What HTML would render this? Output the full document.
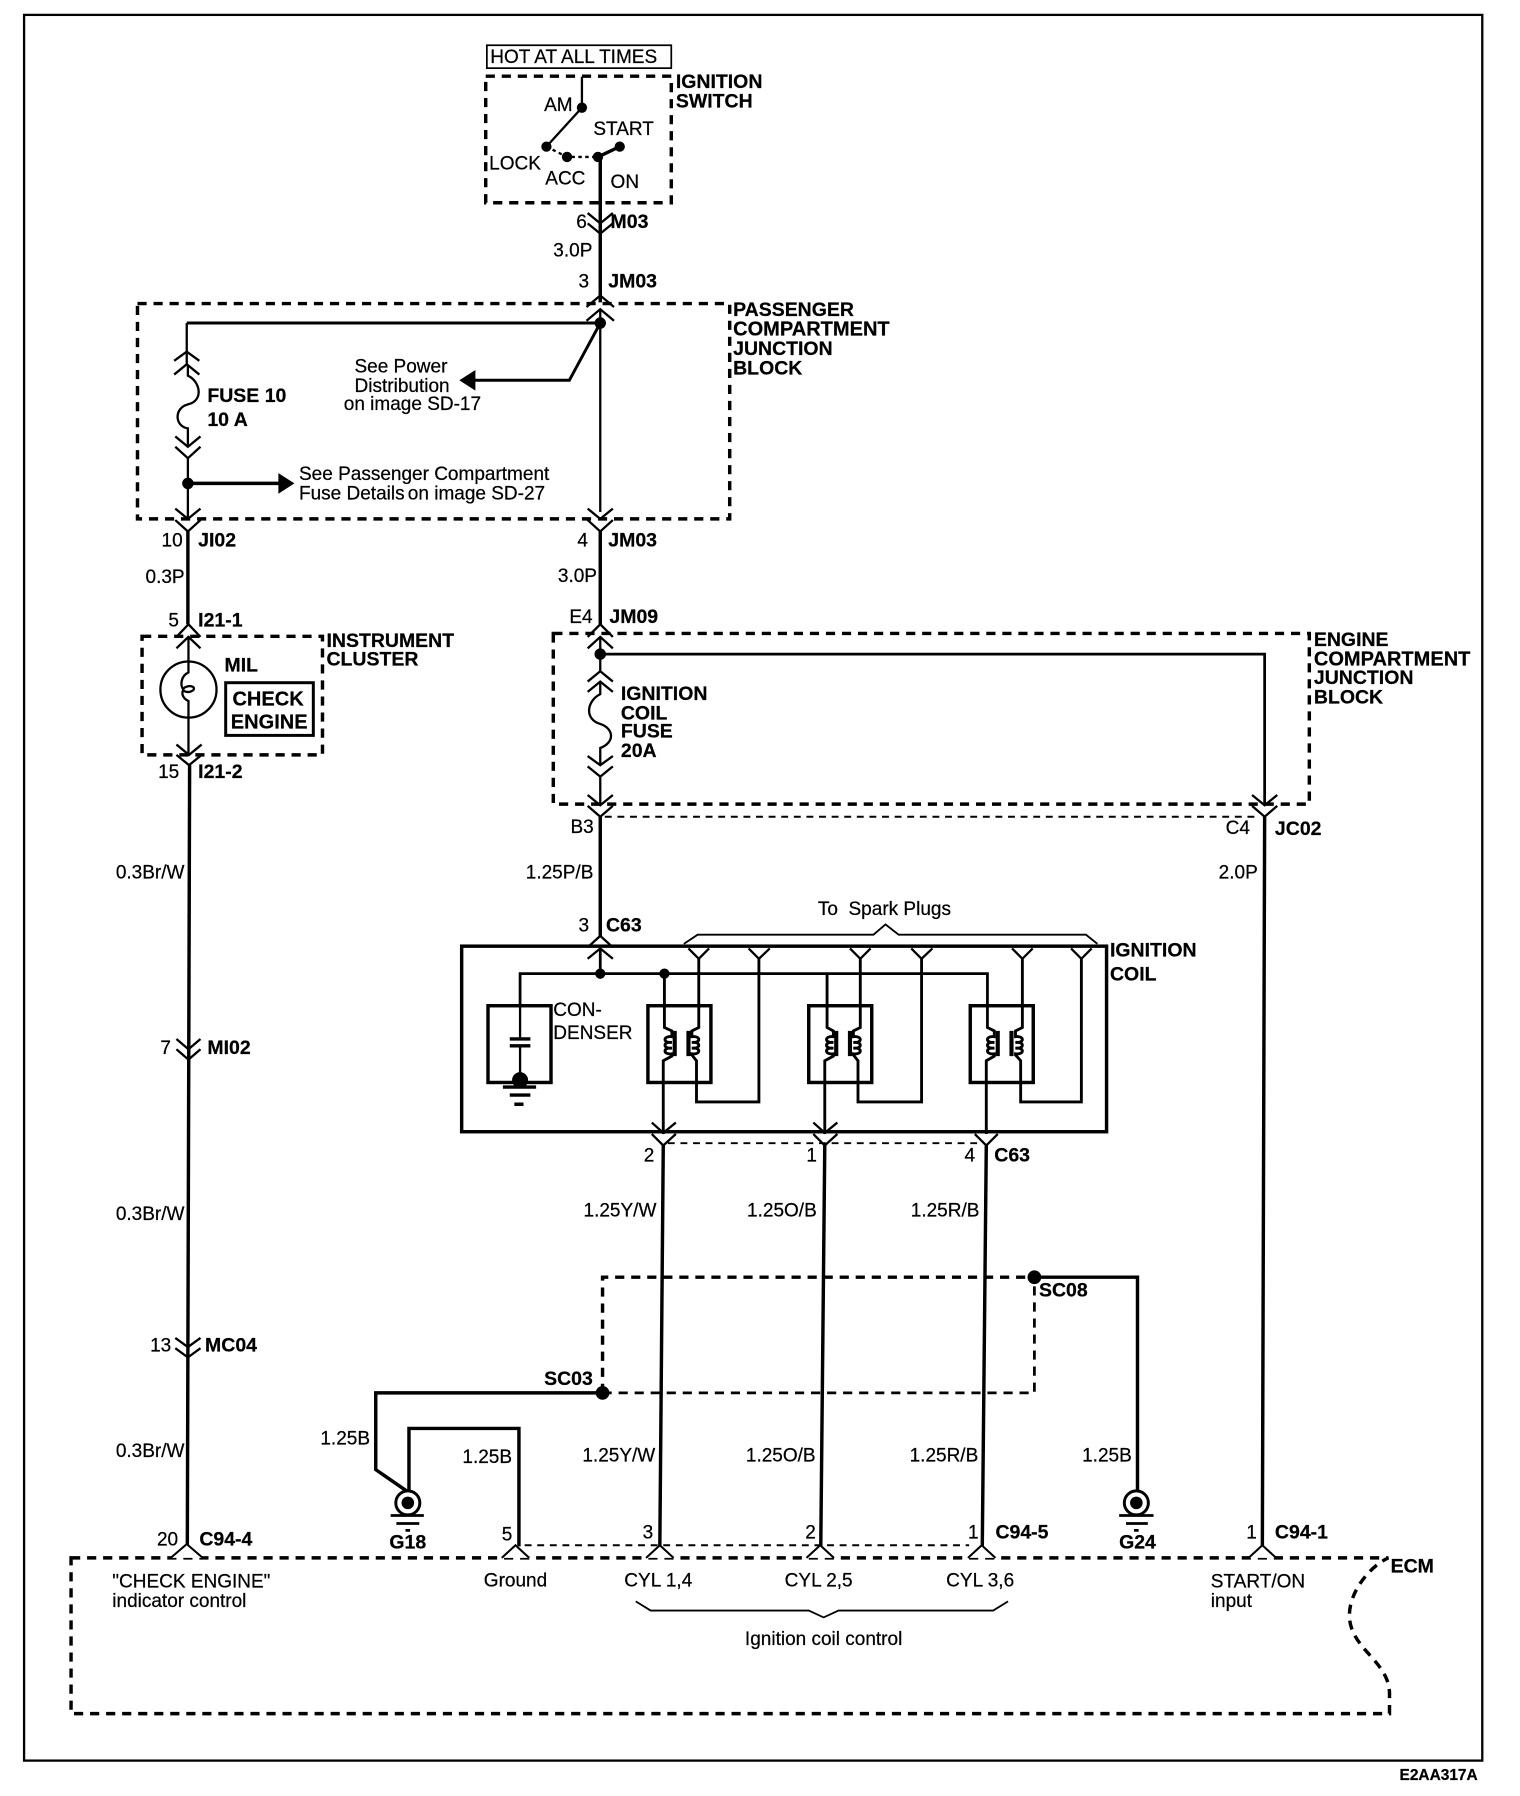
<!DOCTYPE html>
<html><head><meta charset="utf-8"><style>
html,body{margin:0;padding:0;background:#fff}
svg{display:block}
text{font-family:"Liberation Sans",sans-serif;font-size:16.6px;fill:#000;stroke:#000;stroke-width:.2}
.b{font-weight:bold;font-size:17px}
.x{font-size:17.5px}
.e{text-anchor:end}
.m{text-anchor:middle}
.w{fill:none;stroke:#000;stroke-width:3}
.t{fill:none;stroke:#000;stroke-width:2}
.c{fill:none;stroke:#000;stroke-width:2}
.d{fill:none;stroke:#000;stroke-width:3;stroke-dasharray:8 6}
.f{fill:none;stroke:#000;stroke-width:1.7;stroke-dasharray:6 5}
</style></head><body>
<svg width="1520" height="1796" viewBox="0 0 1326.9 1567.9" xmlns="http://www.w3.org/2000/svg">
<rect x="21" y="13" width="1273" height="1524" class="t"/>
<!-- ignition switch -->
<rect x="425" y="39.5" width="161" height="20" fill="none" stroke="#000" stroke-width="1.5"/>
<text x="428" y="55">HOT AT ALL TIMES</text>
<rect x="424" y="66.5" width="162" height="110.5" class="d"/>
<path class="t" d="M508 67V94L477 128"/>
<path d="M477 128L495 137H522" fill="none" stroke="#000" stroke-width="2" stroke-dasharray="3 3"/>
<path class="w" d="M522 137L541 128M524 137V264"/>
<circle cx="508" cy="94" r="4.5"/><circle cx="477" cy="128" r="4.5"/><circle cx="495" cy="137" r="4.5"/><circle cx="522" cy="137" r="4.5"/><circle cx="541" cy="128" r="4.5"/>
<text x="475" y="97">AM</text><text x="518" y="118">START</text><text x="427" y="148">LOCK</text><text x="476" y="161">ACC</text><text x="533" y="164">ON</text>
<text x="590" y="77" class="b">IGNITION</text><text x="590" y="94" class="b">SWITCH</text>
<path class="c" d="M513 186L524 195L535 186M513 195L524 204L535 195"/>
<text x="503" y="199">6</text><text x="533" y="199" class="b">M03</text>
<text x="483" y="224">3.0P</text><text x="505" y="251">3</text><text x="531" y="251" class="b">JM03</text>
<!-- passenger block -->
<rect x="120" y="265" width="517" height="188" class="d"/>
<path class="c" d="M512 268L524 258L536 268M512 280L524 270L536 280"/>
<path class="t" d="M524 270V447"/>
<path class="w" d="M163 282H524" style="stroke-width:2.6"/>
<path class="t" d="M163 282V318"/>
<circle cx="524" cy="282" r="5"/>
<path class="c" d="M152 315L163 307L174 315M152 327L163 318L174 327"/>
<path class="t" d="M164 319V328C175 333 178 350 164 353C152 356 152 372 164 374V389"/>
<path class="c" d="M153 381L164 390L175 381M153 390L164 400L175 390"/>
<path class="t" d="M164 400V453"/>
<circle cx="164" cy="422" r="5"/>
<path class="w" d="M164 422H245"/><path d="M243 413L257 422L243 431Z"/>
<path class="w" d="M524 282L497 332H414" style="stroke-width:2.6"/><path d="M415 323L401 332L415 341Z"/>
<text x="181" y="351" class="b">FUSE 10</text><text x="181" y="372" class="b">10 A</text>
<text x="350" y="325" class="m">See Power</text><text x="351" y="342" class="m">Distribution</text><text x="360" y="358" class="m">on image SD-17</text>
<text x="261" y="419">See Passenger Compartment</text><text x="261" y="436">Fuse Details</text><text x="356" y="436">on image SD-27</text>
<text x="640" y="276" class="b">PASSENGER</text><text x="640" y="293" class="b x">COMPARTMENT</text><text x="640" y="310" class="b">JUNCTION</text><text x="640" y="327" class="b">BLOCK</text>
<path class="c" d="M153 444L164 453L175 444M153 454L164 464L175 454M513 444L524 453L535 444M513 454L524 464L535 454"/>
<path class="w" d="M164 464V545M524 464V545"/>
<text x="141" y="477">10</text><text x="173" y="477" class="b">JI02</text>
<text x="504" y="477">4</text><text x="531" y="477" class="b">JM03</text>
<text x="127" y="509">0.3P</text><text x="487" y="508">3.0P</text>
<!-- instrument cluster -->
<text x="147" y="547">5</text><text x="173" y="547" class="b">I21-1</text>
<rect x="124" y="555.5" width="157.5" height="103.5" class="d"/>
<path class="c" d="M154 556L164.5 545L175 556M154 566L164.5 556L175 566"/>
<circle cx="164.5" cy="602" r="24.5" class="t"/>
<path class="t" d="M164.5 556V587C158 590 157 598 160 602C158 606 160 610 164.5 612V660"/>
<path class="t" d="M160 601C166 597 172 600 168 603C165 605 162 604 160 603"/>
<rect x="197" y="596" width="76.5" height="46" fill="none" stroke="#000" stroke-width="2.6"/>
<text x="196" y="586" class="b">MIL</text>
<text x="234" y="616" class="b m" style="font-size:17.5px">CHECK</text><text x="235" y="636" class="b m" style="font-size:17.5px">ENGINE</text>
<text x="285" y="565" class="b">INSTRUMENT</text><text x="285" y="581" class="b">CLUSTER</text>
<path class="c" d="M154 650L165 659L176 650M154 659L165 668L176 659"/>
<path class="w" d="M165.5 668L163.5 1350"/>
<text x="138" y="679">15</text><text x="173" y="679" class="b">I21-2</text>
<text x="161" y="767" class="e">0.3Br/W</text><text x="161" y="1065" class="e">0.3Br/W</text><text x="161" y="1272" class="e">0.3Br/W</text>
<path class="c" d="M154 907L164.5 916L175 907M154 916L164.5 925L175 916"/>
<text x="140" y="920">7</text><text x="181" y="920" class="b">MI02</text>
<path class="c" d="M153 1168L164 1176L175 1168M153 1177L164 1185L175 1177"/>
<text x="131" y="1180">13</text><text x="179" y="1180" class="b">MC04</text>
<text x="137" y="1349">20</text><text x="174" y="1349" class="b">C94-4</text>
<!-- engine block -->
<text x="497" y="544">E4</text><text x="532" y="544" class="b">JM09</text>
<rect x="483" y="553" width="660" height="149" class="d"/>
<path class="c" d="M513 556L524 545L535 556M513 566L524 556L535 566"/>
<path class="t" d="M524 556V571"/>
<circle cx="524" cy="571" r="5"/>
<path class="t" d="M524 571H1104V702" style="stroke-width:2.4"/>
<path class="t" d="M524 571V586"/>
<path class="c" d="M513 595L524 586L535 595M513 604L524 595L535 604"/>
<path class="t" d="M524 596V606C512 612 510 628 524 632C536 636 537 648 524 653V668"/>
<path class="c" d="M513 660L524 668L535 660M513 669L524 678L535 669"/>
<path class="t" d="M524 678V703"/>
<path class="c" d="M513 694L524 703L535 694M513 703.5L524 713L535 703.5M1093 694L1104 703L1115 694M1093 703.5L1104 713L1115 703.5"/>
<path class="f" d="M528 713H1098"/>
<path class="w" d="M524 713V817M1104 713L1102 1350"/>
<text x="498" y="727">B3</text><text x="1070" y="728">C4</text><text x="1113" y="729" class="b">JC02</text>
<text x="518" y="767" class="e">1.25P/B</text><text x="1098" y="767" class="e">2.0P</text>
<text x="542" y="611" class="b">IGNITION</text><text x="542" y="628" class="b">COIL</text><text x="542" y="644" class="b">FUSE</text><text x="542" y="661" class="b">20A</text>
<text x="1147" y="564" class="b">ENGINE</text><text x="1147" y="581" class="b x">COMPARTMENT</text><text x="1147" y="597" class="b">JUNCTION</text><text x="1147" y="614" class="b">BLOCK</text>
<!-- ignition coil -->
<text x="505" y="813">3</text><text x="529" y="813" class="b">C63</text>
<text x="714" y="799">To&#160;&#160;Spark Plugs</text>
<path class="t" d="M597 824L609 816H762.5L773 807L784.5 816H948L958 824" style="stroke-width:1.6"/>
<rect x="403" y="826" width="563" height="162" class="w"/>
<path class="c" d="M513 827L524 817L535 827M513 837L524 828L535 837"/>
<path class="w" d="M524 828V850" style="stroke-width:2.4"/>
<path class="w" d="M454 878V850H862V898" style="stroke-width:2.4"/>
<circle cx="524" cy="850" r="4.5"/><circle cx="580" cy="850" r="4.5"/>
<rect x="426" y="878" width="55" height="67" class="w"/>
<path class="t" d="M454 878V908M454 913V945"/>
<path d="M445 907H463M445 913H463" stroke="#000" stroke-width="3" fill="none"/>
<circle cx="454" cy="943" r="7"/>
<path d="M439 949H468M445 956H463M449 964H457" stroke="#000" stroke-width="3" fill="none"/>
<text x="483" y="887">CON-</text><text x="483" y="907">DENSER</text>
<text x="969" y="835" class="b">IGNITION</text><text x="969" y="856" class="b">COIL</text>
<!-- relay 1 -->
<rect x="565.6" y="878" width="55" height="67" class="w"/>
<path class="t" d="M580 850V897L586.5 900V905c-8-1-8 6 0 5c-8-1-8 6 0 5c-8-1-8 6 0 5V922L579 926V990" style="stroke-width:2.5"/>
<path d="M589 900V922M601 900V922" stroke="#000" stroke-width="3.6" fill="none"/>
<path class="t" d="M610 837V897L604 900V905c8-1 8 6 0 5c8-1 8 6 0 5c8-1 8 6 0 5V921L608 926V962H662.5V837" style="stroke-width:2.5"/>
<path class="c" d="M601 828L610 837L619 828M653.5 828L662.5 837L672 828"/>
<!-- relay 2 -->
<rect x="706" y="878" width="55" height="67" class="w"/>
<path class="t" d="M722 850V897L727.5 900V905c-8-1-8 6 0 5c-8-1-8 6 0 5c-8-1-8 6 0 5V922L720 926V990" style="stroke-width:2.5"/>
<path d="M730 900V922M742 900V922" stroke="#000" stroke-width="3.6" fill="none"/>
<path class="t" d="M751 837V897L745 900V905c8-1 8 6 0 5c8-1 8 6 0 5c8-1 8 6 0 5V921L749 926V962H804.5V837" style="stroke-width:2.5"/>
<path class="c" d="M742 828L751 837L760 828M795.5 828L804.5 837L814 828"/>
<!-- relay 3 -->
<rect x="847" y="878" width="55" height="67" class="w"/>
<path class="t" d="M862 897L868 900V905c-8-1-8 6 0 5c-8-1-8 6 0 5c-8-1-8 6 0 5V922L861 926V990" style="stroke-width:2.5"/>
<path d="M871 900V922M883 900V922" stroke="#000" stroke-width="3.6" fill="none"/>
<path class="t" d="M892.5 837V897L886.5 900V905c8-1 8 6 0 5c8-1 8 6 0 5c8-1 8 6 0 5V921L891 926V962H944V837" style="stroke-width:2.5"/>
<path class="c" d="M883.5 828L892.5 837L901.5 828M935 828L944 837L953 828"/>
<!-- below coil -->
<path class="c" d="M569 980L579 989L590 980M569 990L579 1000L590 990M710 980L720 989L731 980M710 990L720 1000L731 990M851 990L861 1000L871 990"/>
<path class="f" d="M583 998H853"/>
<path class="w" d="M579 1000L576 1350M720 1000L716.5 1350M861 1000L857.5 1350"/>
<text x="562" y="1014">2</text><text x="704" y="1014">1</text><text x="842" y="1014">4</text><text x="868" y="1014" class="b">C63</text>
<text x="573" y="1062" class="e">1.25Y/W</text><text x="713" y="1062" class="e">1.25O/B</text><text x="855" y="1062" class="e">1.25R/B</text>
<text x="572" y="1276" class="e">1.25Y/W</text><text x="712" y="1276" class="e">1.25O/B</text><text x="854" y="1276" class="e">1.25R/B</text>
<!-- splices -->
<path class="d" d="M526 1216V1115H903"/>
<path class="d" d="M526 1216H903V1115" style="stroke-width:2.4"/>
<circle cx="526" cy="1216" r="6"/><circle cx="903" cy="1115" r="6"/>
<path class="w" d="M526 1216H328V1283L357 1303V1247H453V1350M903 1115H993V1302"/>
<text x="475" y="1209" class="b">SC03</text><text x="907" y="1132" class="b">SC08</text>
<text x="323" y="1261" class="e">1.25B</text><text x="447" y="1277" class="e">1.25B</text><text x="988" y="1276" class="e">1.25B</text>
<circle cx="356" cy="1312" r="10.5" fill="#fff" stroke="#000" stroke-width="2.6"/><circle cx="356" cy="1312" r="5.5"/>
<path d="M341 1323H370M346 1330H366M354 1336H358" stroke="#000" stroke-width="2.4" fill="none"/>
<circle cx="992" cy="1312" r="10.5" fill="#fff" stroke="#000" stroke-width="2.6"/><circle cx="992" cy="1312" r="5.5"/>
<path d="M977 1323H1007M983 1330H1002M990 1336H994" stroke="#000" stroke-width="2.4" fill="none"/>
<text x="356" y="1352" class="b m">G18</text><text x="993" y="1352" class="b m">G24</text>
<!-- ECM -->
<path class="f" d="M458 1349H846"/>
<path class="d" d="M62 1360H1212C1195 1368 1178 1390 1178 1410C1178 1440 1214 1450 1213 1480V1496H62Z"/>
<path d="M149 1360L163 1348L177 1360M438 1360L450 1349L462 1360M564 1360L576 1349L588 1360M704 1360L716 1349L728 1360M845 1360L857 1349L869 1360M1090 1360L1102 1349L1114 1360" fill="#fff" stroke="#000" stroke-width="1.8"/>
<text x="438" y="1345">5</text><text x="561" y="1343">3</text><text x="703" y="1343">2</text><text x="845" y="1343">1</text><text x="1088" y="1343">1</text>
<text x="869" y="1343" class="b">C94-5</text><text x="1113" y="1343" class="b">C94-1</text>
<text x="1214" y="1373" class="b">ECM</text>
<text x="98" y="1386">"CHECK ENGINE"</text><text x="98" y="1403">indicator control</text>
<text x="450" y="1385" class="m">Ground</text>
<text x="545" y="1385">CYL 1,4</text><text x="685" y="1385">CYL 2,5</text><text x="826" y="1385">CYL 3,6</text>
<text x="1057" y="1386">START/ON</text><text x="1057" y="1403">input</text>
<path class="t" d="M555 1398L568 1406H706L719 1412L732 1406H867L880 1398" style="stroke-width:1.6"/>
<text x="719" y="1436" class="m">Ignition coil control</text>
<text x="1290" y="1554" class="e b" style="font-size:13.5px">E2AA317A</text>
</svg>
</body></html>
